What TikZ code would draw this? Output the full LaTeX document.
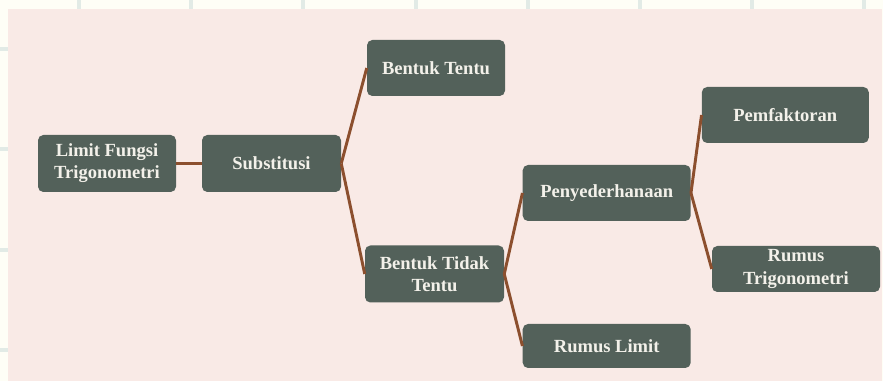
\documentclass[tikz,border=0pt]{standalone}
\usepackage{fontspec}
\setmainfont{Liberation Serif}
\definecolor{outerbg}{HTML}{FEFEF6}
\definecolor{gridc}{HTML}{E2EBE6}
\definecolor{pinkbg}{HTML}{F9EAE6}
\definecolor{boxc}{HTML}{53615A}
\definecolor{txtc}{HTML}{F3F1EA}
\definecolor{linkc}{HTML}{8C4F2E}
\begin{document}
\begin{tikzpicture}[x=0.75pt,y=-0.75pt,
  box/.style={fill=boxc, rounded corners=4pt, text=txtc,
    font=\fontsize{13.9}{16.6}\selectfont\bfseries, align=center, inner sep=0pt},
  link/.style={draw=linkc, line width=2.2pt},
  gridline/.style={draw=gridc, line width=3pt}]
\useasboundingbox (0,0) rectangle (883,381);
\fill[outerbg] (0,0) rectangle (883,381);
\foreach \gx in {79,191,303,416,528,640,752,864}
  \draw[gridline] (\gx,0) -- (\gx,10);
\foreach \gy in {49,149,250,350}
  \draw[gridline] (0,\gy) -- (9,\gy);
\fill[pinkbg] (8,9) rectangle (882,381);

\node[box, minimum width=103.5pt, minimum height=42.75pt] (lim) at (107,163.5) {Limit Fungsi\\Trigonometri};
\node[box, minimum width=104.25pt, minimum height=42.75pt] (sub) at (271.5,163.5) {Substitusi};
\node[box, minimum width=103.5pt, minimum height=42pt] (bt) at (436,68) {Bentuk Tentu};
\node[box, minimum width=104.25pt, minimum height=42.75pt] (btt) at (434.5,274) {Bentuk Tidak\\Tentu};
\node[box, minimum width=126pt, minimum height=42pt] (pen) at (606.7,193) {Penyederhanaan};
\node[box, minimum width=126pt, minimum height=33pt] (rl) at (606.7,346) {Rumus Limit};
\node[box, minimum width=125.25pt, minimum height=42pt] (pem) at (785.3,115) {Pemfaktoran};
\node[box, minimum width=126pt, minimum height=34.5pt] (rt) at (796,269) {Rumus\\Trigonometri};

\draw[link] (lim.east) -- (sub.west);
\draw[link] (sub.east) -- (bt.west);
\draw[link] (sub.east) -- (btt.west);
\draw[link] (btt.east) -- (pen.west);
\draw[link] (btt.east) -- (rl.west);
\draw[link] (pen.east) -- (pem.west);
\draw[link] (pen.east) -- (rt.west);
\end{tikzpicture}
\end{document}
